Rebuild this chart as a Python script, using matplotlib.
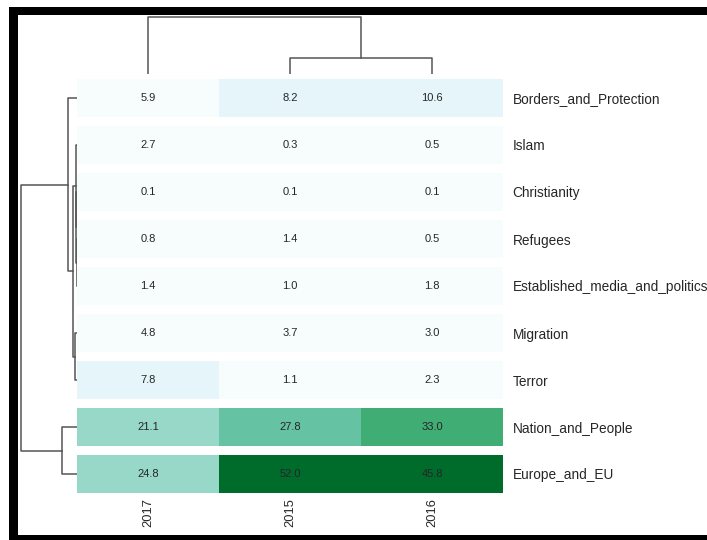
import numpy as np
import matplotlib.pyplot as plt
from matplotlib.colors import ListedColormap
from matplotlib.patches import Rectangle

plt.rcParams['font.family'] = ['Liberation Sans', 'DejaVu Sans']

# topic shares per year, rows/columns already in clustered order
topics = ['Borders_and_Protection', 'Islam', 'Christianity', 'Refugees',
          'Established_media_and_politics', 'Migration', 'Terror',
          'Nation_and_People', 'Europe_and_EU']
years = ['2017', '2015', '2016']
share_2017 = [5.9, 2.7, 0.1, 0.8, 1.4, 4.8, 7.8, 21.1, 24.8]
share_2015 = [8.2, 0.3, 0.1, 1.4, 1.0, 3.7, 1.1, 27.8, 52.0]
share_2016 = [10.6, 0.5, 0.1, 0.5, 1.8, 3.0, 2.3, 33.0, 45.8]

# linkage rows: (child a, child b, distance); ids >= n refer to earlier merges
row_links = [(3, 4, 0.4), (2, 9, 0.8), (1, 10, 1.2), (5, 6, 2.0),
             (11, 12, 4.5), (0, 13, 9.0), (7, 8, 15.5), (14, 15, 56.5)]
col_links = [(1, 2, 16.0), (0, 3, 57.0)]


def dendro_segments(leaf_pos, links):
    """U-shaped segments (position, height) for each merge."""
    pos = list(leaf_pos)
    height = [0.0] * len(leaf_pos)
    segs = []
    for a, b, d in links:
        segs.append(([pos[a], pos[a], pos[b], pos[b]],
                     [height[a], d, d, height[b]]))
        pos.append((pos[a] + pos[b]) / 2)
        height.append(d)
    return segs


W, H = 707, 540
fig = plt.figure(figsize=(W / 100, H / 100), dpi=100)
fig.patch.set_facecolor('white')


def px_axes(x0, y0, x1, y1, **kw):
    return fig.add_axes([x0 / W, 1 - y1 / H, (x1 - x0) / W, (y1 - y0) / H], **kw)


ax = px_axes(77, 79, 503, 493)
ax_row = px_axes(18, 79, 77, 493, sharey=ax)
ax_col = px_axes(77, 15, 503, 74, sharex=ax)

data = np.array([share_2017, share_2015, share_2016]).T
n_rows, n_cols = data.shape
cell = 38 / 47

# interleave empty rows so the rows are separated by white gaps
grid = np.full((2 * n_rows - 1, n_cols), np.nan)
grid[::2] = data
y_edges = [0.0]
for i in range(n_rows):
    y_edges.append(i + cell)
    if i < n_rows - 1:
        y_edges.append(i + 1.0)
x_edges = np.arange(n_cols + 1)

cmap = ListedColormap(plt.get_cmap('BuGn')(np.arange(8) / 8))
ax.pcolormesh(x_edges, y_edges, np.ma.masked_invalid(grid), cmap=cmap,
              vmin=data.min(), vmax=data.max())

row_centers = np.arange(n_rows) + cell / 2
col_centers = np.arange(n_cols) + 0.5
for i in range(n_rows):
    for j in range(n_cols):
        ax.text(col_centers[j], row_centers[i], f'{data[i, j]:.1f}',
                ha='center', va='center', fontsize=8, color='#262626')

ax.set_xlim(0, n_cols)
ax.set_ylim(n_rows - 1 + cell, 0)
ax.set_xticks(col_centers)
ax.set_xticklabels(years, rotation=90, fontsize=9.3, color='#262626')
ax.set_yticks(row_centers)
ax.set_yticklabels(topics, fontsize=9.8, color='#262626')
ax.yaxis.tick_right()
ax.tick_params(length=0)
ax.tick_params(axis='y', pad=7)
ax.tick_params(axis='x', pad=4)
for s in ax.spines.values():
    s.set_visible(False)

line_kw = dict(color='#555555', lw=1.1)
for ys, xs in dendro_segments(row_centers, row_links):
    ax_row.plot(xs, ys, **line_kw)
ax_row.set_xlim(59, 0)
ax_row.axis('off')

for xs, ys in dendro_segments(col_centers, col_links):
    ax_col.plot(xs, ys, **line_kw)
ax_col.set_ylim(0, 59)
ax_col.axis('off')

# black frame on top, left and bottom
for x0, y0, x1, y1 in [(9, 7, W, 15), (9, 7, 18, H), (9, 535, W, H)]:
    fig.add_artist(Rectangle((x0 / W, 1 - y1 / H), (x1 - x0) / W, (y1 - y0) / H,
                             transform=fig.transFigure, color='black', lw=0))

fig.savefig('out.png', dpi=100)
